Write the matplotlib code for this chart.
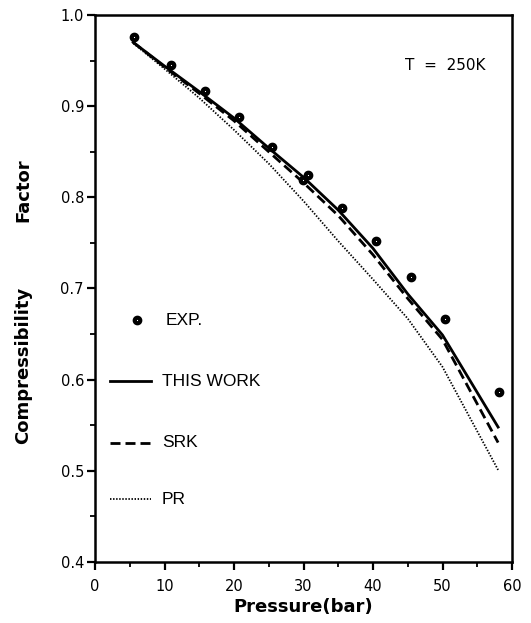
import matplotlib
matplotlib.use("Agg")
import matplotlib.pyplot as plt
from matplotlib.ticker import MultipleLocator, FormatStrFormatter

plt.rcParams['font.family'] = ['Liberation Sans', 'DejaVu Sans']

# Experimental data
exp_p = [5.6, 10.9, 15.8, 20.7, 25.5, 29.9, 30.6, 35.6, 40.4, 45.5, 50.3, 58.2]
exp_z = [0.976, 0.945, 0.917, 0.888, 0.855, 0.819, 0.825, 0.788, 0.752, 0.713, 0.667, 0.586]

# Model curves
model_p = [5.5, 10, 15, 20, 25, 30, 35, 40, 45, 50, 58]
this_work = [0.970, 0.944, 0.916, 0.887, 0.854, 0.822, 0.786, 0.744, 0.694, 0.649, 0.548]
srk = [0.970, 0.943, 0.914, 0.884, 0.850, 0.816, 0.780, 0.737, 0.689, 0.644, 0.531]
pr = [0.969, 0.941, 0.909, 0.874, 0.837, 0.796, 0.752, 0.710, 0.667, 0.614, 0.501]

W, H = 531, 623
fig = plt.figure(figsize=(W / 100, H / 100), dpi=100)
ax = fig.add_axes([95 / W, 1 - 562 / H, (512 - 95) / W, (562 - 15) / H])

solid_ls = '-'
dash_ls = (0, (3.6, 1.8))
dot_ls = (0, (0.8, 0.9))
mk = dict(ls='none', marker='o', ms=4.0, mfc='white', mec='black', mew=3.0)

ax.plot(model_p, this_work, color='black', lw=2.0, ls=solid_ls)
ax.plot(model_p, srk, color='black', lw=2.0, ls=dash_ls)
ax.plot(model_p, pr, color='black', lw=1.3, ls=dot_ls)
ax.plot(exp_p, exp_z, **mk)

ax.set_xlim(0, 60)
ax.set_ylim(0.4, 1.0)
ax.xaxis.set_major_locator(MultipleLocator(10))
ax.xaxis.set_minor_locator(MultipleLocator(5))
ax.yaxis.set_major_locator(MultipleLocator(0.1))
ax.yaxis.set_minor_locator(MultipleLocator(0.05))
ax.yaxis.set_major_formatter(FormatStrFormatter('%.1f'))
ax.tick_params(which='major', direction='out', length=6, width=1.6)
ax.tick_params(which='minor', direction='out', length=3.5, width=1.3)
ax.tick_params(axis='x', pad=6)
ax.tick_params(axis='y', pad=2)
for lab in ax.get_xticklabels() + ax.get_yticklabels():
    lab.set_family('DejaVu Sans')
    lab.set_fontsize(10.5)
for s in ax.spines.values():
    s.set_linewidth(1.8)

ax.set_xlabel('Pressure(bar)', fontsize=13, fontweight='bold', family='DejaVu Sans', labelpad=3)
fig.text(23 / W, 1 - 190 / H, 'Factor', rotation=90, ha='center', va='center',
         fontsize=13, fontweight='bold', family='DejaVu Sans')
fig.text(23 / W, 1 - 365 / H, 'Compressibility', rotation=90, ha='center', va='center',
         fontsize=13, fontweight='bold', family='DejaVu Sans')

ax.text(44.6, 0.945, 'T  =  250K', fontsize=11, va='center', ha='left', family='DejaVu Sans')

# Legend drawn manually
ax.plot([6.0], [0.665], **mk)
ax.text(10.2, 0.665, 'EXP.', fontsize=12.5, va='center')
ax.plot([2.2, 8.0], [0.598, 0.598], color='black', lw=2.0, ls=solid_ls)
ax.text(9.6, 0.598, 'THIS WORK', fontsize=12.5, va='center')
ax.plot([2.2, 8.0], [0.531, 0.531], color='black', lw=2.0, ls=dash_ls)
ax.text(9.6, 0.531, 'SRK', fontsize=12.5, va='center')
ax.plot([2.2, 8.0], [0.469, 0.469], color='black', lw=1.3, ls=dot_ls)
ax.text(9.6, 0.469, 'PR', fontsize=12.5, va='center')

fig.savefig('out.png', dpi=100)
